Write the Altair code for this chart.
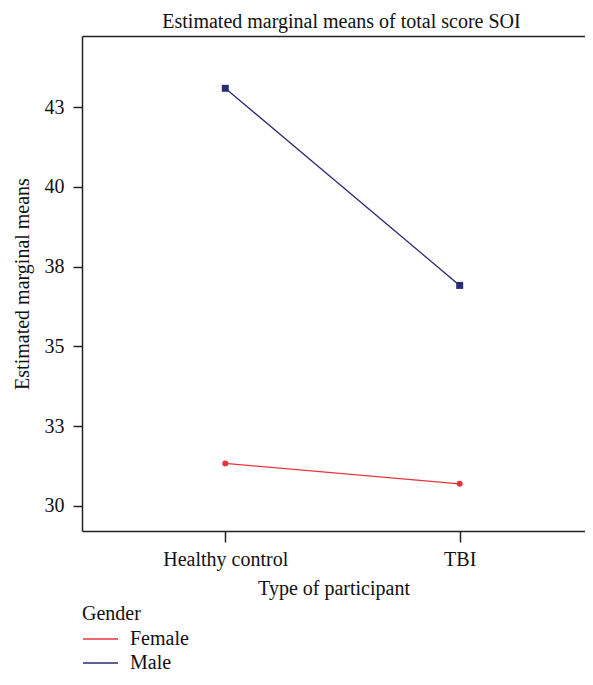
import altair as alt
import pandas as pd

participants = ["Healthy control", "TBI"]
genders = ["Female", "Male"]
female_means = [31.33, 30.69]
male_means = [43.09, 36.91]
y_ticks = [30, 32.5, 35, 37.5, 40, 42.5]
colors = ["#e8353c", "#2b2b73"]
shapes = ["circle", "square"]
point_sizes = [36, 49]

rows = []
for g, vals in zip(genders, [female_means, male_means]):
    for i, (p, v) in enumerate(zip(participants, vals)):
        rows.append({"participant": p, "pos": i + 1, "gender": g, "marker": g, "mean": v})
df = pd.DataFrame(rows)

FONT = "Liberation Serif"
FS = 20
INK = "#111111"

label_expr = "datum.value == 1 ? 'Healthy control' : (datum.value == 2 ? 'TBI' : '')"

x_scale = alt.Scale(domain=[0.3887, 2.5346], nice=False, zero=False)
y_scale = alt.Scale(domain=[29.21, 44.73], nice=False, zero=False)

color = alt.Color(
    "gender:N",
    scale=alt.Scale(domain=genders, range=colors),
    legend=alt.Legend(
        title="Gender", orient="none", legendX=0, legendY=568,
        symbolType="stroke", symbolSize=1225, symbolStrokeWidth=1.5,
        clipHeight=20, rowPadding=4, labelOffset=11, titlePadding=5,
        titleFontWeight="normal", titleFontSize=FS, labelFontSize=FS,
        titleFont=FONT, labelFont=FONT, titleColor=INK, labelColor=INK,
    ),
)

x_bottom = alt.X(
    "pos:Q", scale=x_scale,
    axis=alt.Axis(values=[1, 2], labelExpr=label_expr, title="Type of participant",
                  grid=False, tickSize=11, labelPadding=7, titlePadding=9,
                  domainColor="#222", tickColor="#222", domainWidth=1.5, tickWidth=1.5,
                  labelFontSize=FS, titleFontSize=FS, labelFont=FONT, titleFont=FONT,
                  titleFontWeight="normal", labelColor=INK, titleColor=INK),
)
x_top = alt.X(
    "pos:Q", scale=x_scale,
    axis=alt.Axis(orient="top", labels=False, ticks=False, grid=False, title=None,
                  domainColor="#222", domainWidth=1.5),
)
y = alt.Y(
    "mean:Q", scale=y_scale,
    axis=alt.Axis(values=y_ticks, format=".0f", title="Estimated marginal means",
                  grid=False, tickSize=9, labelPadding=9, titlePadding=12,
                  domainColor="#222", tickColor="#222", domainWidth=1.5, tickWidth=1.5,
                  labelFontSize=FS, titleFontSize=FS, labelFont=FONT, titleFont=FONT,
                  titleFontWeight="normal", labelColor=INK, titleColor=INK),
)

lines = alt.Chart(df).mark_line(strokeWidth=1.3).encode(x=x_bottom, y=y, color=color)
points = alt.Chart(df).mark_point(filled=True, opacity=1).encode(
    x=x_top, y=y,
    color=alt.Color("marker:N", scale=alt.Scale(domain=genders, range=colors), legend=None),
    shape=alt.Shape("marker:N", scale=alt.Scale(domain=genders, range=shapes), legend=None),
    size=alt.Size("marker:N", scale=alt.Scale(domain=genders, range=point_sizes), legend=None),
)

chart = (
    alt.layer(lines, points)
    .resolve_axis(x="independent")
    .resolve_scale(color="independent")
    .properties(
        width=503, height=495,
        title=alt.TitleParams("Estimated marginal means of total score SOI", font=FONT,
                              fontSize=FS, fontWeight="normal", color=INK,
                              anchor="middle", dx=8, offset=4),
        autosize=alt.AutoSizeParams(type="none"),
        padding={"left": 74, "top": 28, "right": 0, "bottom": 146},
    )
    .configure_view(stroke=None)
    .configure(background="white")
)

chart.save("out.html", embed_options={"renderer": "svg", "actions": False})
